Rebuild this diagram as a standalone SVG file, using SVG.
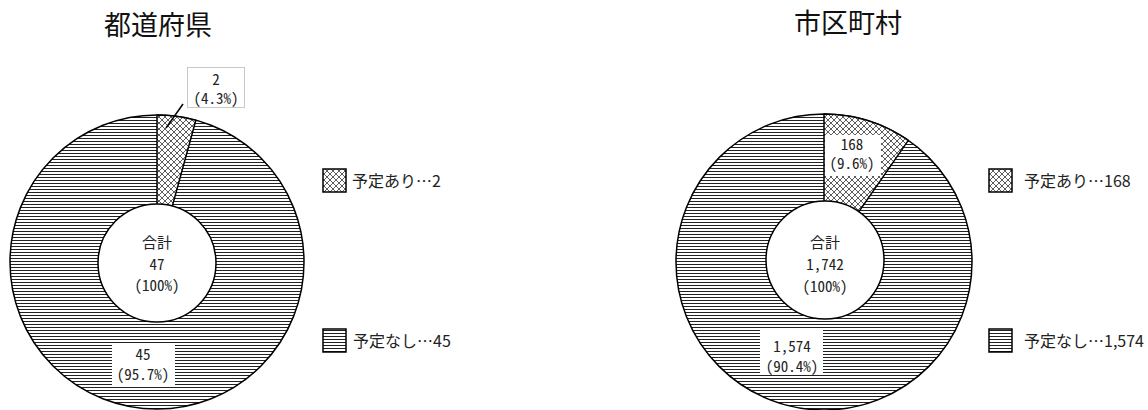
<svg xmlns="http://www.w3.org/2000/svg" width="1148" height="410" viewBox="0 0 1148 410">
<style>
.title{font-family:"Noto Sans CJK JP","Noto Sans CJK SC",sans-serif;font-size:27px;fill:#111;text-anchor:middle}
.lbl{font-family:"Noto Sans Mono CJK JP","Noto Sans CJK JP","Liberation Mono",monospace;font-size:15px;fill:#222;text-anchor:middle}
.leg{font-family:"Noto Sans CJK JP","Noto Sans CJK SC",sans-serif;font-size:16px;fill:#222}
.ring{fill:url(#hz);stroke:#000;stroke-width:1.5}
.slice{fill:url(#xh);stroke:#000;stroke-width:1.5;stroke-linejoin:round}
.hole{fill:#fff;stroke:#000;stroke-width:1.5}
.box{fill:#fff;stroke:none}
.legbox{stroke:#000;stroke-width:1.5}
</style>
<defs>
<pattern id="hz" patternUnits="userSpaceOnUse" width="6" height="3">
<rect x="0" y="0" width="6" height="3" fill="#fff"/>
<rect x="0" y="0" width="6" height="1" fill="#222"/>
</pattern>
<pattern id="xh" patternUnits="userSpaceOnUse" width="6" height="6">
<rect x="0" y="0" width="6" height="6" fill="#fff"/>
<path d="M0,0 L6,6 M6,0 L0,6" stroke="#333" stroke-width="0.8"/>
</pattern>
</defs>
<rect width="1148" height="410" fill="#fff"/>

<g id="pref-title"><text class="title" x="158" y="35">都道府県</text></g>
<g id="muni-title"><text class="title" x="848" y="33">市区町村</text></g>

<g id="pref-pie">
<circle class="ring" cx="157" cy="262" r="147"/>
<path class="slice" d="M157,262 L157,115 A147,147 0 0 1 195.84,120.22 Z"/>
<circle class="hole" cx="157" cy="263" r="59"/>
<text class="lbl" x="157" y="248">合計</text>
<text class="lbl" x="157" y="270">47</text>
<text class="lbl" x="157" y="291">(100%)</text>
</g>

<g id="pref-label-yes">
<rect x="187.5" y="67.5" width="57" height="40" fill="#fff" stroke="#c8c8c8" stroke-width="1"/>
<text class="lbl" x="216" y="85">2</text>
<text class="lbl" x="216" y="104">(4.3%)</text>
</g>
<g id="pref-label-no">
<rect class="box" x="112" y="343" width="63" height="43"/>
<text class="lbl" x="143" y="360">45</text>
<text class="lbl" x="143" y="380">(95.7%)</text>
</g>

<g id="muni-pie">
<circle class="ring" cx="824" cy="262" r="148"/>
<path class="slice" d="M824,262 L824,114 A148,148 0 0 1 908.3,140.4 Z"/>
<circle class="hole" cx="825" cy="260" r="59"/>
<text class="lbl" x="825" y="248">合計</text>
<text class="lbl" x="825" y="270">1,742</text>
<text class="lbl" x="825" y="292">(100%)</text>
</g>
<g id="muni-label-yes">
<rect class="box" x="825" y="135" width="56" height="41"/>
<text class="lbl" x="852" y="150">168</text>
<text class="lbl" x="852" y="169">(9.6%)</text>
</g>
<g id="muni-label-no">
<rect class="box" x="760" y="330" width="63" height="45"/>
<text class="lbl" x="792" y="352">1,574</text>
<text class="lbl" x="792" y="372">(90.4%)</text>
</g>

<g id="pref-legend-yes">
<rect class="legbox" x="323" y="169" width="23" height="23" fill="url(#xh)"/>
<text class="leg" x="352" y="187">予定あり…2</text>
</g>
<g id="pref-legend-no">
<rect class="legbox" x="323" y="329" width="23" height="23" fill="url(#hz)"/>
<text class="leg" x="353" y="347">予定なし…45</text>
</g>
<g id="muni-legend-yes">
<rect class="legbox" x="989" y="169" width="23" height="23" fill="url(#xh)"/>
<text class="leg" x="1024" y="187">予定あり…168</text>
</g>
<g id="muni-legend-no">
<rect class="legbox" x="989" y="329" width="23" height="23" fill="url(#hz)"/>
<text class="leg" x="1024" y="347">予定なし…1,574</text>
</g>

<g id="connectors">
<line x1="183" y1="104" x2="166" y2="128" stroke="#000" stroke-width="1.5"/>
</g>
</svg>
